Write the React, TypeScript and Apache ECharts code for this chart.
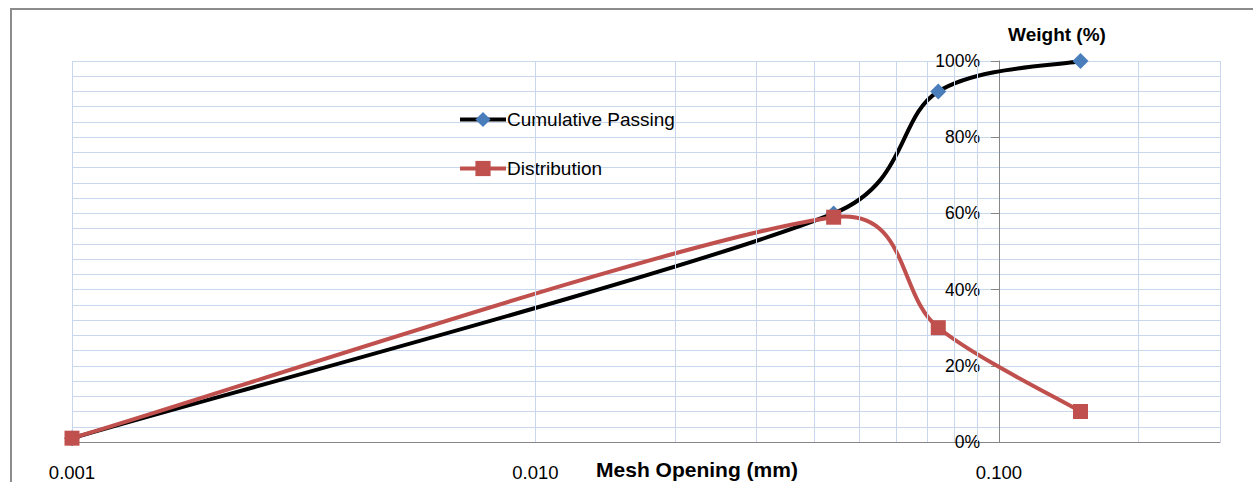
import React, { useEffect, useRef } from "react";
import * as echarts from "echarts";

// ---- data ----
const MESH_OPENING = [0.001, 0.044, 0.074, 0.15];
const CUMULATIVE_PASSING = [1, 60, 92, 100];
const DISTRIBUTION = [1, 59, 30, 8];
const X_MIN = 0.001;
const X_MAX = 0.3;
const MINOR_GRID_X = [
  0.002, 0.003, 0.004, 0.005, 0.006, 0.007, 0.008, 0.009,
  0.02, 0.03, 0.04, 0.05, 0.06, 0.07, 0.08, 0.09,
  0.2,
];
const SERIES_NAMES = ["Cumulative Passing", "Distribution"];

const FONT = "'Liberation Sans', Arial, sans-serif";
const GRID_COLOR = "#c8d7eb";
const AXIS_COLOR = "#868686";
const BLACK = "#000000";
const BLUE = "#4a7ebb";
const RED = "#c0504d";

// Excel-like smoothed path (Catmull-Rom tangents /6, limited to half a segment)
function smoothPath(pts: number[][]): string {
  if (!pts.length) return "";
  let d = `M${pts[0][0]},${pts[0][1]}`;
  const lim = (v: number[], max: number) => {
    const len = Math.hypot(v[0], v[1]);
    if (len > max && len > 0) return [(v[0] * max) / len, (v[1] * max) / len];
    return v;
  };
  for (let i = 0; i < pts.length - 1; i++) {
    const p0 = pts[i - 1] || pts[i];
    const p1 = pts[i];
    const p2 = pts[i + 1];
    const p3 = pts[i + 2] || pts[i + 1];
    const half = Math.hypot(p2[0] - p1[0], p2[1] - p1[1]) / 2;
    const t1 = lim([(p2[0] - p0[0]) / 6, (p2[1] - p0[1]) / 6], half);
    const t2 = lim([(p3[0] - p1[0]) / 6, (p3[1] - p1[1]) / 6], half);
    const c1 = [p1[0] + t1[0], p1[1] + t1[1]];
    const c2 = [p2[0] - t2[0], p2[1] - t2[1]];
    d += ` C${c1[0]},${c1[1]} ${c2[0]},${c2[1]} ${p2[0]},${p2[1]}`;
  }
  return d;
}

function curveSeries(name: string, values: number[], color: string, z: number) {
  return {
    type: "custom",
    name,
    coordinateSystem: "cartesian2d",
    xAxisIndex: 0,
    yAxisIndex: 0,
    z,
    silent: true,
    clip: false,
    data: MESH_OPENING.map((x, i) => [x, values[i]]),
    encode: { x: 0, y: 1 },
    renderItem: (params: any, api: any) => {
      if (params.dataIndex !== 0) return null;
      const pts = MESH_OPENING.map((x, i) => api.coord([x, values[i]]));
      return {
        type: "path",
        shape: { pathData: smoothPath(pts) },
        style: { fill: "none", stroke: color, lineWidth: 4, lineJoin: "round", lineCap: "round" },
      };
    },
  };
}

export default function App() {
  const ref = useRef<HTMLDivElement>(null);

  useEffect(() => {
    document.body.style.margin = "0";
    document.body.style.overflow = "hidden";
    if (!ref.current) return;
    const chart = echarts.init(ref.current, null, { renderer: "svg" });

    const isDecade = (v: number) => {
      const l = Math.log10(v);
      return Math.abs(l - Math.round(l)) < 1e-6;
    };

    const option: any = {
      animation: false,
      textStyle: { fontFamily: FONT },
      grid: [
        { left: 72, right: 33, top: 61, bottom: 40, containLabel: false },
        { left: 999, width: 50, top: 61, bottom: 40, containLabel: false },
      ],
      xAxis: [
        {
          type: "log",
          gridIndex: 0,
          logBase: 10,
          min: X_MIN,
          max: X_MAX,
          axisLine: { show: true, lineStyle: { color: AXIS_COLOR, width: 1 } },
          axisTick: { show: false },
          splitLine: { show: true, lineStyle: { color: GRID_COLOR, width: 1 } },
          axisLabel: {
            margin: 21,
            fontSize: 18.5,
            color: "#000",
            fontFamily: FONT,
            formatter: (v: number) => (isDecade(v) ? v.toFixed(3) : ""),
          },
        },
        { type: "value", gridIndex: 1, show: false },
      ],
      yAxis: [
        {
          type: "value",
          gridIndex: 0,
          min: 0,
          max: 100,
          interval: 4,
          axisLine: { show: false },
          axisTick: { show: false },
          axisLabel: { show: false },
          splitLine: { show: true, lineStyle: { color: GRID_COLOR, width: 1 } },
        },
        {
          type: "value",
          gridIndex: 1,
          position: "left",
          min: 0,
          max: 100,
          interval: 20,
          axisLine: { show: true, lineStyle: { color: AXIS_COLOR, width: 1 } },
          axisTick: { show: true, length: 8, lineStyle: { color: AXIS_COLOR } },
          splitLine: { show: false },
          axisLabel: {
            margin: 19,
            fontSize: 17.5,
            color: "#000",
            fontFamily: FONT,
            formatter: "{value}%",
          },
        },
      ],
      legend: {
        orient: "vertical",
        left: 453,
        top: 105,
        itemWidth: 46,
        itemHeight: 19,
        itemGap: 30,
        data: [
          {
            name: SERIES_NAMES[0],
            lineStyle: { color: BLACK, width: 4, opacity: 1 },
            itemStyle: { color: BLUE, opacity: 1 },
          },
          {
            name: SERIES_NAMES[1],
            lineStyle: { color: RED, width: 4, opacity: 1 },
            itemStyle: { color: RED, opacity: 1 },
          },
        ],
        textStyle: { fontSize: 19, color: "#000", fontFamily: FONT, padding: [0, 0, 0, -4] },
      },
      graphic: [
        {
          type: "rect",
          shape: { x: 11, y: 9, width: 1400, height: 700 },
          style: { fill: "none", stroke: "#8c8c8c", lineWidth: 2 },
          silent: true,
        },
        {
          type: "text",
          x: 697,
          y: 469,
          style: {
            text: "Mesh Opening (mm)",
            fontFamily: FONT,
            fontWeight: "bold",
            fontSize: 21,
            fill: "#000",
            align: "center",
            verticalAlign: "middle",
          },
        },
        {
          type: "text",
          x: 1057,
          y: 34,
          style: {
            text: "Weight (%)",
            fontFamily: FONT,
            fontWeight: "bold",
            fontSize: 19,
            fill: "#000",
            align: "center",
            verticalAlign: "middle",
          },
        },
      ],
      series: [
        {
          type: "line",
          name: "__grid",
          xAxisIndex: 0,
          yAxisIndex: 0,
          data: [],
          silent: true,
          z: 1,
          markLine: {
            silent: true,
            symbol: "none",
            label: { show: false },
            lineStyle: { color: GRID_COLOR, width: 1, type: "solid" },
            data: MINOR_GRID_X.map((v) => ({ xAxis: v })),
          },
        },
        curveSeries("__cum_curve", CUMULATIVE_PASSING, BLACK, 2),
        {
          type: "line",
          name: SERIES_NAMES[0],
          xAxisIndex: 0,
          yAxisIndex: 0,
          z: 3,
          symbol: "diamond",
          symbolSize: 16,
          showAllSymbol: true,
          lineStyle: { color: BLACK, width: 4, opacity: 0 },
          itemStyle: { color: BLUE },
          data: MESH_OPENING.map((x, i) => [x, CUMULATIVE_PASSING[i]]),
        },
        curveSeries("__dist_curve", DISTRIBUTION, RED, 4),
        {
          type: "line",
          name: SERIES_NAMES[1],
          xAxisIndex: 0,
          yAxisIndex: 0,
          z: 5,
          symbol: "rect",
          symbolSize: 15,
          showAllSymbol: true,
          lineStyle: { color: RED, width: 4, opacity: 0 },
          itemStyle: { color: RED },
          data: MESH_OPENING.map((x, i) => [x, DISTRIBUTION[i]]),
        },
      ],
    };

    chart.setOption(option);
    return () => chart.dispose();
  }, []);

  return <div ref={ref} style={{ width: 1253, height: 482 }} />;
}
